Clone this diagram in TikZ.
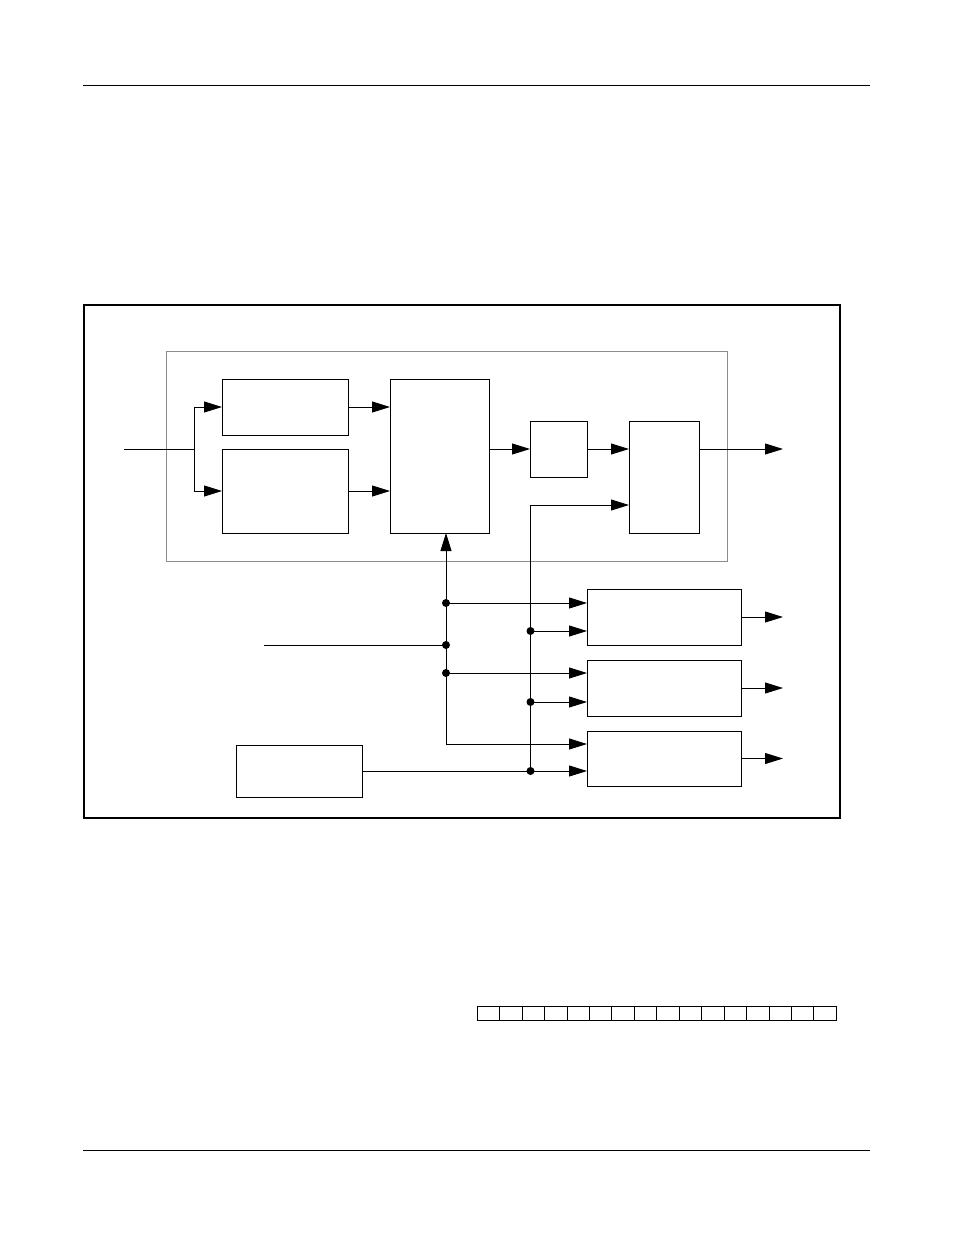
\documentclass[tikz,border=0pt]{standalone}
\usetikzlibrary{arrows.meta}
\begin{document}
\begin{tikzpicture}[x=1pt,y=-1pt,line width=0.9pt,
  >={Triangle[length=18pt,width=11pt]},
  box/.style={draw,inner sep=0pt,outer sep=0pt,line width=0.9pt},
  dot/.style={circle,fill,inner sep=0pt,minimum size=8pt},
  frame/.style={draw,line width=1.2pt},
  grayframe/.style={draw,gray!90,line width=0.9pt}]
\useasboundingbox (0,0) rectangle (954,1235);
% page rules
\draw (83,85) -- (870,85);
\draw (83,1150) -- (870,1150);
% frames
\draw[frame] (84,305) rectangle (840,818);
\draw[grayframe] (166,351) rectangle (727,561);
% boxes
\node[box,minimum width=126pt,minimum height=56pt] (A) at (285,407) {};
\node[box,minimum width=126pt,minimum height=84pt] (B) at (285,491) {};
\node[box,minimum width=99pt,minimum height=154pt] (C) at (439.5,456) {};
\node[box,minimum width=57pt,minimum height=56pt] (D) at (558.5,449) {};
\node[box,minimum width=70pt,minimum height=112pt] (E) at (664,477) {};
\node[box,minimum width=154pt,minimum height=56pt] (F) at (664,617) {};
\node[box,minimum width=154pt,minimum height=56pt] (G) at (664,688) {};
\node[box,minimum width=154pt,minimum height=55pt] (H) at (664,758.5) {};
\node[box,minimum width=126pt,minimum height=52pt] (I) at (299,771) {};
% coordinates
\coordinate (in) at (124,449);
\coordinate (split) at (194,449);
\coordinate (out1) at (783,449);
\coordinate (vb) at (446,744);
\coordinate (d1) at (446,603);
\coordinate (d2) at (446,645);
\coordinate (d3) at (446,673);
\coordinate (sin) at (264,645);
\coordinate (wb) at (530.5,771);
\coordinate (e1) at (530.5,631);
\coordinate (e2) at (530.5,702);
% input split
\draw (in) -- (split);
\draw[->] (split) |- (A.west);
\draw[->] (split) |- (B.west);
\draw[->] (A.east) -- (A.east -| C.west);
\draw[->] (B.east) -- (B.east -| C.west);
\draw[->] (C.east |- D.west) -- (D.west);
\draw[->] (D.east) -- (D.east -| E.west);
\draw[->] (D.east -| E.east) -- (out1);
% vertical bus 1
\draw[->] (vb) -- (vb |- C.south);
\draw (sin) -- (d2);
\draw[->] (d1) -- (d1 -| F.west);
\draw[->] (d3) -- (d3 -| G.west);
\draw[->] (vb) -- (vb -| H.west);
% vertical bus 2
\draw[->] (I.east) -- (wb) |- ([yshift=-28pt]E.west);
\draw[->] (wb) -- (wb -| H.west);
\draw[->] (e1) -- (e1 -| F.west);
\draw[->] (e2) -- (e2 -| G.west);
% outputs
\draw[->] (F.east) -- ++(42,0);
\draw[->] (G.east) -- ++(42,0);
\draw[->] (H.east) -- ++(42,0);
% dots
\foreach \p in {d1,d2,d3,e1,e2,wb} \node[dot] at (\p) {};
% register
\foreach \i in {0,...,15}
  \draw (477.3+\i*22.44,1006.5) rectangle (477.3+\i*22.44+22.44,1020.5);
\end{tikzpicture}
\end{document}
